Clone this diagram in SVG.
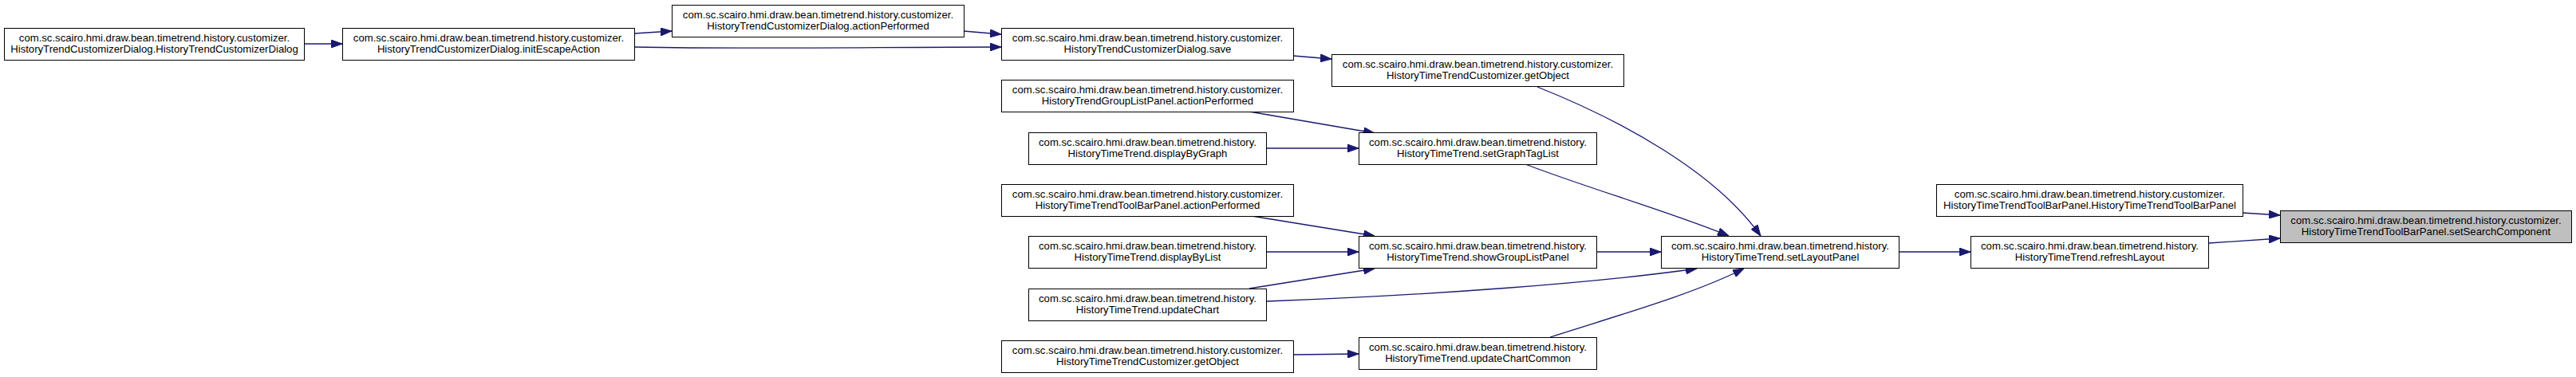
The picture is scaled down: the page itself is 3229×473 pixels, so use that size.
<svg xmlns="http://www.w3.org/2000/svg" width="3229" height="473" viewBox="0 0 3229 473">
<style>
.n rect{fill:#fff;stroke:#000;stroke-width:1}
#R rect{fill:#bfbfbf}
.n text{font-family:"Liberation Sans",Arial,sans-serif;font-size:13.15px;fill:#000;text-anchor:middle}
.e path{fill:none;stroke:#191970;stroke-width:1.3;marker-end:url(#ah)}
</style>
<defs>
<marker id="ah" markerUnits="userSpaceOnUse" markerWidth="14" markerHeight="10" viewBox="0 0 14 10" refX="14" refY="5" orient="auto">
<path d="M0,0 L14,5 L0,10 z" fill="#191970" stroke="#191970" stroke-width="1"/>
</marker>
</defs>
<rect width="3229" height="473" fill="#fff"/>
<g id="edges" class="e">
<path d="M381,55 L429,55"/>
<path d="M795,42 L842,39"/>
<path d="M795,59 C950,62 1100,59 1255,59"/>
<path d="M1208,39 L1255,43"/>
<path d="M1621,70 L1669,74"/>
<path d="M1566,140 L1723,167"/>
<path d="M1588,186 L1703,186"/>
<path d="M1912,206 C1990,236 2100,268 2167,296"/>
<path d="M1927,109 C2030,150 2150,215 2207,296"/>
<path d="M1569,271 L1723,296"/>
<path d="M1588,316 L1703,316"/>
<path d="M1566,362 L1723,337"/>
<path d="M1588,378 C1800,370 2000,355 2127,337"/>
<path d="M2001,316 L2082,316"/>
<path d="M1621,445 L1703,444"/>
<path d="M1943,423 C2030,395 2120,370 2186,337"/>
<path d="M2380,316 L2470,316"/>
<path d="M2811,267 L2858,270"/>
<path d="M2769,305 L2858,299"/>
</g>
<g id="A" class="n"><rect x="5.5" y="35.5" width="376" height="40"/><text x="193.5" y="52">com.sc.scairo.hmi.draw.bean.timetrend.history.customizer.</text><text x="193.5" y="66">HistoryTrendCustomizerDialog.HistoryTrendCustomizerDialog</text></g>
<g id="B" class="n"><rect x="429.5" y="35.5" width="366" height="40"/><text x="612.5" y="52">com.sc.scairo.hmi.draw.bean.timetrend.history.customizer.</text><text x="612.5" y="66">HistoryTrendCustomizerDialog.initEscapeAction</text></g>
<g id="C" class="n"><rect x="842.5" y="6.5" width="366" height="40"/><text x="1025.5" y="23">com.sc.scairo.hmi.draw.bean.timetrend.history.customizer.</text><text x="1025.5" y="37">HistoryTrendCustomizerDialog.actionPerformed</text></g>
<g id="D" class="n"><rect x="1255.5" y="35.5" width="366" height="40"/><text x="1438.5" y="52">com.sc.scairo.hmi.draw.bean.timetrend.history.customizer.</text><text x="1438.5" y="66">HistoryTrendCustomizerDialog.save</text></g>
<g id="E" class="n"><rect x="1255.5" y="100.5" width="366" height="40"/><text x="1438.5" y="117">com.sc.scairo.hmi.draw.bean.timetrend.history.customizer.</text><text x="1438.5" y="131">HistoryTrendGroupListPanel.actionPerformed</text></g>
<g id="F" class="n"><rect x="1669.5" y="68.5" width="366" height="40"/><text x="1852.5" y="85">com.sc.scairo.hmi.draw.bean.timetrend.history.customizer.</text><text x="1852.5" y="99">HistoryTimeTrendCustomizer.getObject</text></g>
<g id="G" class="n"><rect x="1703.5" y="166.5" width="298" height="40"/><text x="1852.5" y="183">com.sc.scairo.hmi.draw.bean.timetrend.history.</text><text x="1852.5" y="197">HistoryTimeTrend.setGraphTagList</text></g>
<g id="H" class="n"><rect x="1289.5" y="166.5" width="298" height="40"/><text x="1438.5" y="183">com.sc.scairo.hmi.draw.bean.timetrend.history.</text><text x="1438.5" y="197">HistoryTimeTrend.displayByGraph</text></g>
<g id="I" class="n"><rect x="1255.5" y="231.5" width="366" height="40"/><text x="1438.5" y="248">com.sc.scairo.hmi.draw.bean.timetrend.history.customizer.</text><text x="1438.5" y="262">HistoryTimeTrendToolBarPanel.actionPerformed</text></g>
<g id="J" class="n"><rect x="1289.5" y="296.5" width="298" height="40"/><text x="1438.5" y="313">com.sc.scairo.hmi.draw.bean.timetrend.history.</text><text x="1438.5" y="327">HistoryTimeTrend.displayByList</text></g>
<g id="K" class="n"><rect x="1703.5" y="296.5" width="298" height="40"/><text x="1852.5" y="313">com.sc.scairo.hmi.draw.bean.timetrend.history.</text><text x="1852.5" y="327">HistoryTimeTrend.showGroupListPanel</text></g>
<g id="L" class="n"><rect x="1289.5" y="362.5" width="298" height="40"/><text x="1438.5" y="379">com.sc.scairo.hmi.draw.bean.timetrend.history.</text><text x="1438.5" y="393">HistoryTimeTrend.updateChart</text></g>
<g id="M" class="n"><rect x="1255.5" y="427.5" width="366" height="40"/><text x="1438.5" y="444">com.sc.scairo.hmi.draw.bean.timetrend.history.customizer.</text><text x="1438.5" y="458">HistoryTimeTrendCustomizer.getObject</text></g>
<g id="N" class="n"><rect x="1703.5" y="423.5" width="298" height="40"/><text x="1852.5" y="440">com.sc.scairo.hmi.draw.bean.timetrend.history.</text><text x="1852.5" y="454">HistoryTimeTrend.updateChartCommon</text></g>
<g id="O" class="n"><rect x="2082.5" y="296.5" width="298" height="40"/><text x="2231.5" y="313">com.sc.scairo.hmi.draw.bean.timetrend.history.</text><text x="2231.5" y="327">HistoryTimeTrend.setLayoutPanel</text></g>
<g id="P" class="n"><rect x="2427.5" y="231.5" width="384" height="40"/><text x="2619.5" y="248">com.sc.scairo.hmi.draw.bean.timetrend.history.customizer.</text><text x="2619.5" y="262">HistoryTimeTrendToolBarPanel.HistoryTimeTrendToolBarPanel</text></g>
<g id="Q" class="n"><rect x="2470.5" y="296.5" width="298" height="40"/><text x="2619.5" y="313">com.sc.scairo.hmi.draw.bean.timetrend.history.</text><text x="2619.5" y="327">HistoryTimeTrend.refreshLayout</text></g>
<g id="R" class="n"><rect x="2858.5" y="264.5" width="365" height="40"/><text x="3041" y="281">com.sc.scairo.hmi.draw.bean.timetrend.history.customizer.</text><text x="3041" y="295">HistoryTimeTrendToolBarPanel.setSearchComponent</text></g>
</svg>
